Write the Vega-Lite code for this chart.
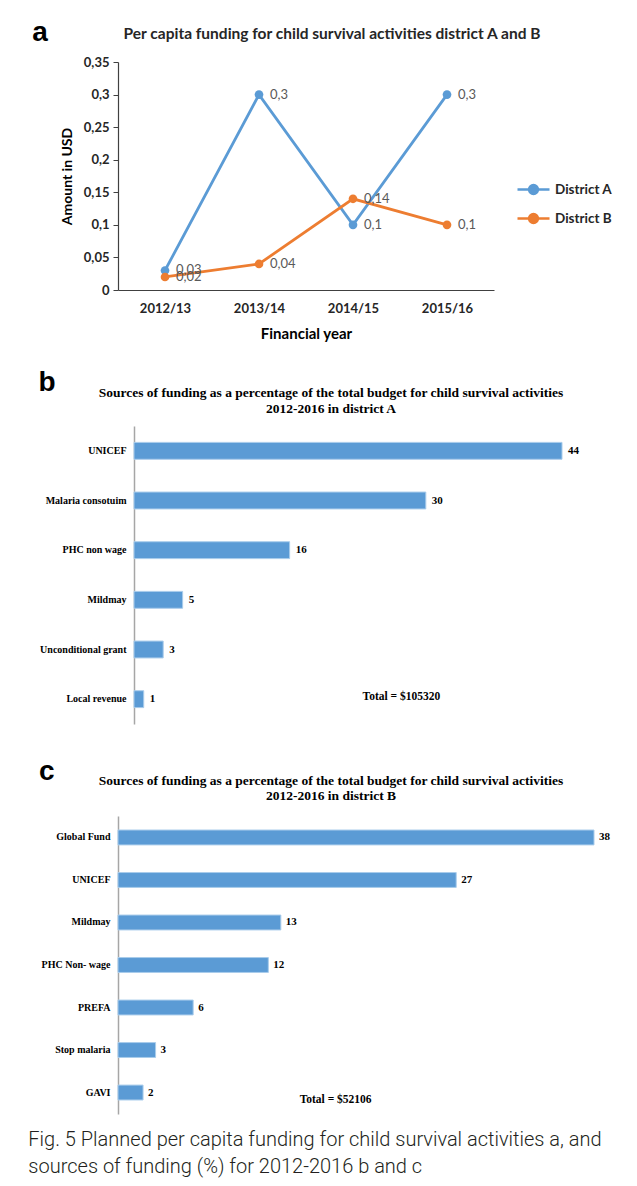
{
  "$schema": "https://vega.github.io/schema/vega-lite/v6.json",
  "background": "white",
  "padding": {"left": 28, "top": 18, "right": 5, "bottom": 5},
  "datasets": {
    "perCapita": [
      {"year": "2012/13", "district": "District A", "amount": 0.03},
      {"year": "2013/14", "district": "District A", "amount": 0.3},
      {"year": "2014/15", "district": "District A", "amount": 0.1},
      {"year": "2015/16", "district": "District A", "amount": 0.3},
      {"year": "2012/13", "district": "District B", "amount": 0.02},
      {"year": "2013/14", "district": "District B", "amount": 0.04},
      {"year": "2014/15", "district": "District B", "amount": 0.14},
      {"year": "2015/16", "district": "District B", "amount": 0.1}
    ],
    "sourcesA": [
      {"source": "UNICEF", "percent": 44},
      {"source": "Malaria consotuim", "percent": 30},
      {"source": "PHC non wage", "percent": 16},
      {"source": "Mildmay", "percent": 5},
      {"source": "Unconditional grant", "percent": 3},
      {"source": "Local revenue", "percent": 1}
    ],
    "sourcesB": [
      {"source": "Global Fund", "percent": 38},
      {"source": "UNICEF", "percent": 27},
      {"source": "Mildmay", "percent": 13},
      {"source": "PHC Non- wage", "percent": 12},
      {"source": "PREFA", "percent": 6},
      {"source": "Stop malaria", "percent": 3},
      {"source": "GAVI", "percent": 2}
    ]
  },
  "title": {
    "text": ["Fig. 5 Planned per capita funding for child survival activities a, and", "sources of funding (%) for 2012-2016 b and c"],
    "orient": "bottom",
    "anchor": "start",
    "frame": "bounds",
    "font": "Roboto",
    "fontSize": 20,
    "fontWeight": 300,
    "color": "#231f20",
    "lineHeight": 27,
    "offset": 16,
    "dx": -4
  },
  "spacing": 27,
  "vconcat": [
    {
      "title": {"text": "a", "anchor": "start", "font": "Liberation Sans", "fontSize": 28, "fontWeight": "bold", "color": "#000000", "dx": -28, "dy": 24},
      "vconcat": [
        {
          "width": 376,
          "height": 228,
          "title": {"text": "Per capita funding for child survival activities district A and B", "font": "Lato", "fontSize": 15.5, "fontWeight": "bold", "color": "#262626", "anchor": "middle", "frame": "group", "offset": 14, "dx": 26},
          "data": {"name": "perCapita"},
          "encoding": {
            "x": {
              "field": "year", "type": "ordinal", "sort": null,
              "scale": {"type": "point", "padding": 0.5},
              "axis": {"title": "Financial year", "labelAngle": 0, "ticks": false, "labelPadding": 12, "titlePadding": 11, "titleFontSize": 15}
            },
            "y": {
              "field": "amount", "type": "quantitative",
              "scale": {"domain": [0, 0.35], "nice": false},
              "axis": {"title": "Amount in USD", "values": [0, 0.05, 0.1, 0.15, 0.2, 0.25, 0.3, 0.35], "format": ".2~f", "grid": false, "ticks": true, "tickSize": 5, "labelPadding": 4, "titlePadding": 9}
            },
            "color": {
              "field": "district", "type": "nominal",
              "scale": {"domain": ["District A", "District B"], "range": ["#5B9BD5", "#ED7D31"]},
              "legend": {"title": null, "orient": "none", "legendX": 406, "legendY": 118, "symbolType": "M -2 0 L 2 0 M 0.55 0 A 0.55 0.55 0 1 1 -0.55 0 A 0.55 0.55 0 1 1 0.55 0 Z", "symbolSize": 256, "symbolStrokeWidth": 2.5, "labelFont": "Lato", "labelFontSize": 13.5, "labelFontWeight": "bold", "labelColor": "#262626", "rowPadding": 10, "labelOffset": 12}
            }
          },
          "layer": [
            {"mark": {"type": "line", "strokeWidth": 2.8, "point": {"filled": true, "size": 75}}},
            {
              "mark": {"type": "text", "align": "left", "baseline": "middle", "dx": 11, "font": "Lato", "fontSize": 13, "color": "#595959"},
              "encoding": {"text": {"field": "amount", "type": "quantitative", "format": ".2~f"}, "color": {"value": "#595959"}}
            }
          ]
        }
      ]
    },
    {
      "title": {"text": "b", "anchor": "start", "font": "Liberation Sans", "fontSize": 28, "fontWeight": "bold", "color": "#000000", "dx": -1, "dy": 15},
      "vconcat": [
        {
          "width": 444,
          "height": 298,
          "title": {"text": ["Sources of funding as a percentage of the total budget for child survival activities", "2012-2016 in district A"], "font": "Liberation Serif", "fontSize": 13.5, "fontWeight": "bold", "color": "#000000", "anchor": "middle", "frame": "group", "lineHeight": 16, "offset": 11, "dx": -9},
          "data": {"name": "sourcesA"},
          "encoding": {
            "y": {
              "field": "source", "type": "nominal", "sort": null,
              "scale": {"paddingInner": 0.66, "paddingOuter": 0.33},
              "axis": {"title": null, "ticks": false, "offset": -16, "domainColor": "#A6A6A6", "domainWidth": 1.5, "labelFont": "Liberation Serif", "labelFontSize": 10, "labelFontWeight": "bold", "labelColor": "#000000", "labelPadding": 8}
            },
            "x": {
              "field": "percent", "type": "quantitative",
              "scale": {"domain": [-1.645, 44], "nice": false, "zero": false},
              "axis": {"title": null, "labels": false, "domain": false, "grid": false, "ticks": true, "tickSize": 6, "tickOpacity": 0}
            }
          },
          "layer": [
            {"mark": {"type": "bar", "color": "#5B9BD5", "stroke": "#A9CCEB", "strokeWidth": 1}},
            {
              "mark": {"type": "text", "align": "left", "baseline": "middle", "dx": 6, "font": "Liberation Serif", "fontSize": 11, "fontWeight": "bold", "color": "#000000"},
              "encoding": {"text": {"field": "percent", "type": "quantitative"}}
            },
            {
              "transform": [{"filter": "datum.source === 'Local revenue'"}],
              "mark": {"type": "text", "align": "left", "baseline": "middle", "dy": -2, "font": "Liberation Serif", "fontSize": 11.5, "fontWeight": "bold", "color": "#000000"},
              "encoding": {
                "x": {"datum": 23.5},
                "text": {"value": "Total = $105320"}
              }
            }
          ]
        }
      ]
    },
    {
      "title": {"text": "c", "anchor": "start", "font": "Liberation Sans", "fontSize": 28, "fontWeight": "bold", "color": "#000000", "dx": -2, "dy": 16},
      "vconcat": [
        {
          "width": 476,
          "height": 298,
          "title": {"text": ["Sources of funding as a percentage of the total budget for child survival activities", "2012-2016 in district B"], "font": "Liberation Serif", "fontSize": 13.5, "fontWeight": "bold", "color": "#000000", "anchor": "middle", "frame": "group", "lineHeight": 15, "offset": 14, "dx": -25},
          "data": {"name": "sourcesB"},
          "encoding": {
            "y": {
              "field": "source", "type": "nominal", "sort": null,
              "scale": {"paddingInner": 0.65, "paddingOuter": 0.33},
              "axis": {"title": null, "ticks": false, "domainColor": "#A6A6A6", "domainWidth": 1.5, "labelFont": "Liberation Serif", "labelFontSize": 10, "labelFontWeight": "bold", "labelColor": "#000000", "labelPadding": 8}
            },
            "x": {
              "field": "percent", "type": "quantitative",
              "scale": {"domain": [0, 38], "nice": false},
              "axis": null
            }
          },
          "layer": [
            {"mark": {"type": "bar", "color": "#5B9BD5", "stroke": "#A9CCEB", "strokeWidth": 1}},
            {
              "mark": {"type": "text", "align": "left", "baseline": "middle", "dx": 5, "font": "Liberation Serif", "fontSize": 11, "fontWeight": "bold", "color": "#000000"},
              "encoding": {"text": {"field": "percent", "type": "quantitative"}}
            },
            {
              "transform": [{"filter": "datum.source === 'GAVI'"}],
              "mark": {"type": "text", "align": "left", "baseline": "middle", "dy": 7, "font": "Liberation Serif", "fontSize": 11.5, "fontWeight": "bold", "color": "#000000"},
              "encoding": {
                "x": {"datum": 14.5},
                "text": {"value": "Total = $52106"}
              }
            }
          ]
        }
      ]
    }
  ],
  "config": {
    "view": {"stroke": null},
    "locale": {"number": {"decimal": ",", "thousands": " ", "grouping": [3], "currency": ["$", ""]}},
    "axis": {
      "domainColor": "#404040",
      "domainWidth": 1.2,
      "tickColor": "#404040",
      "labelFont": "Lato",
      "labelFontSize": 13,
      "labelFontWeight": "bold",
      "labelColor": "#262626",
      "titleFont": "Lato",
      "titleFontSize": 14,
      "titleFontWeight": "bold",
      "titleColor": "#000000"
    }
  }
}
